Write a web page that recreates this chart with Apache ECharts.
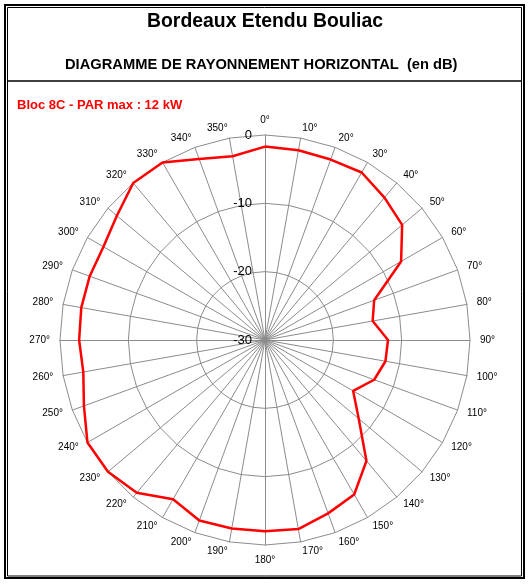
<!DOCTYPE html>
<html>
<head>
<meta charset="utf-8">
<script src="https://cdn.jsdelivr.net/npm/echarts@6/dist/echarts.min.js"></script>
<style>
  html, body { margin: 0; padding: 0; background: #fff; }
  #chart { width: 530px; height: 585px; }
</style>
</head>
<body>
<div id="chart"></div>
<script>
// angles clockwise from north, values in dB
const angles = [0, 10, 20, 30, 40, 50, 60, 70, 80, 90, 100, 110, 120, 130, 140, 150, 160, 170,
                180, 190, 200, 210, 220, 230, 240, 250, 260, 270, 280, 290, 300, 310, 320, 330, 340, 350];
const levels = [-1.7, -1.8, -1.9, -1.7, -2.8, -3.8, -7.0, -13.0, -14.0, -12.0, -12.1, -13.0, -15.1, -12.1, -6.9, -3.9, -3.0, -1.9,
                -2.0, -2.0, -1.9, -3.1, -0.8, 0, 0, -1.8, -3.0, -2.8, -2.7, -2.7, -2.7, -1.7, 0, 0, -1.8, -2.7];
const dbMin = -30;
const dbMax = 0;

const chart = echarts.init(document.getElementById('chart'));

// le radar tourne dans le sens trigo : on inverse l'ordre (0, 350, 340 ... 10)
const order = angles.map((a, i) => (angles.length - i) % angles.length);
const indicators = order.map((k, i) => {
    const ind = { name: angles[k] + '°', min: dbMin, max: dbMax };
    if (i === 0) {
        ind.axisLabel = { show: true };
    }
    return ind;
});
const values = order.map(k => levels[k]);

const option = {
    backgroundColor: '#fff',
    animation: false,
    title: [
        {
            text: 'Bordeaux Etendu Bouliac',
            left: 'center',
            top: 7,
            textStyle: { fontFamily: 'Liberation Sans', fontWeight: 'bold', fontSize: 19.4, color: '#000' }
        },
        {
            text: 'DIAGRAMME DE RAYONNEMENT HORIZONTAL  (en dB)',
            left: 60,
            top: 52,
            textStyle: { fontFamily: 'Liberation Sans', fontWeight: 'bold', fontSize: 14.7, color: '#000' }
        },
        {
            text: 'Bloc 8C - PAR max : 12 kW',
            left: 12,
            top: 94,
            textStyle: { fontFamily: 'Liberation Sans', fontWeight: 'bold', fontSize: 13, color: '#ff0000' }
        }
    ],
    graphic: [
        { type: 'rect', shape: { x: 5, y: 5, width: 519, height: 573 }, style: { fill: null, stroke: '#000', lineWidth: 2 } },
        { type: 'rect', shape: { x: 7.5, y: 7.5, width: 514, height: 568.5 }, style: { fill: null, stroke: '#000', lineWidth: 1 } },
        { type: 'line', shape: { x1: 7.5, y1: 81, x2: 521.5, y2: 81 }, style: { stroke: '#000', lineWidth: 1.5 } }
    ],
    radar: {
        center: [265, 340],
        radius: 205,
        startAngle: 90,
        shape: 'polygon',
        splitNumber: 3,
        indicator: indicators,
        axisName: { color: '#000', fontFamily: 'Liberation Sans', fontSize: 10 },
        nameGap: 10,
        axisLine: { lineStyle: { color: '#8c8c8c', width: 1 } },
        splitLine: { lineStyle: { color: '#8c8c8c', width: 1 } },
        splitArea: { show: false },
        axisTick: { show: false },
        axisLabel: { show: false, color: '#000', fontFamily: 'Liberation Sans', fontSize: 13, margin: 13 }
    },
    series: [
        {
            type: 'radar',
            symbol: 'none',
            lineStyle: { color: '#ff0000', width: 2.5 },
            data: [{ value: values, name: 'Bloc 8C' }]
        }
    ]
};

chart.setOption(option);
</script>
</body>
</html>
